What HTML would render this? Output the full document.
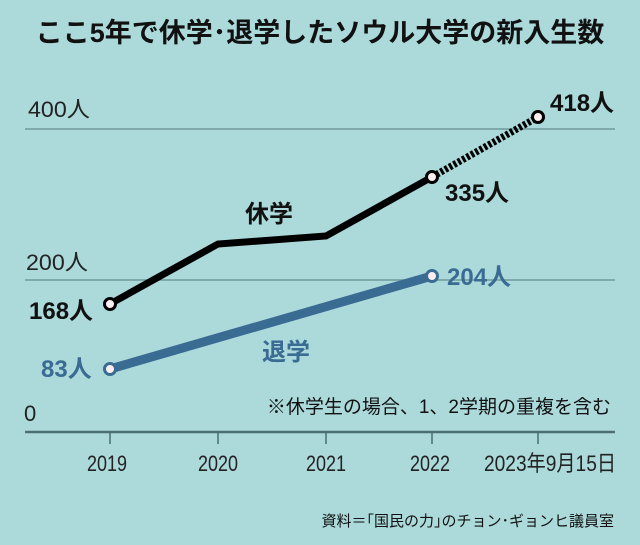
<!DOCTYPE html>
<html><head><meta charset="utf-8"><style>
body{margin:0;width:640px;height:545px;background:#acd9da;overflow:hidden}
svg{display:block}
text{font-family:"Liberation Sans","Noto Sans CJK JP",sans-serif}
</style></head><body>
<svg width="640" height="545" viewBox="0 0 640 545">
<text x="320" y="42" text-anchor="middle" font-size="27" font-weight="bold" fill="#111">ここ5年で休学･退学したソウル大学の新入生数</text>
<line x1="25" y1="129" x2="615" y2="129" stroke="#6f9a9d" stroke-width="1.5"/>
<line x1="25" y1="280" x2="615" y2="280" stroke="#6f9a9d" stroke-width="1.5"/>
<line x1="25" y1="432" x2="615" y2="432" stroke="#4a6e72" stroke-width="2.5"/>
<g stroke="#4a6e72" stroke-width="1.5">
<line x1="110" y1="432" x2="110" y2="444"/><line x1="218" y1="432" x2="218" y2="444"/><line x1="326" y1="432" x2="326" y2="444"/><line x1="432" y1="432" x2="432" y2="444"/><line x1="538" y1="432" x2="538" y2="444"/></g>
<g font-size="22" fill="#222" text-anchor="middle">
<text x="107" y="471" textLength="40" lengthAdjust="spacingAndGlyphs">2019</text><text x="218" y="471" textLength="40" lengthAdjust="spacingAndGlyphs">2020</text><text x="326" y="471" textLength="40" lengthAdjust="spacingAndGlyphs">2021</text><text x="430" y="471" textLength="40" lengthAdjust="spacingAndGlyphs">2022</text><text x="550" y="471" textLength="132" lengthAdjust="spacingAndGlyphs">2023年9月15日</text></g>
<g font-size="22" fill="#222"><text x="28" y="117" textLength="62" lengthAdjust="spacingAndGlyphs">400人</text><text x="26" y="270" textLength="62" lengthAdjust="spacingAndGlyphs">200人</text><text x="24" y="421">0</text></g>
<polyline points="110,304 218,244 326,236 432,177" fill="none" stroke="#000" stroke-width="7" stroke-linejoin="miter"/>
<line x1="432" y1="177" x2="538" y2="117" stroke="#000" stroke-width="7" stroke-dasharray="3,2"/>
<line x1="110" y1="369" x2="432" y2="276" stroke="#3a6b93" stroke-width="9"/>
<g fill="#fbeef0" stroke="#000" stroke-width="3"><circle cx="110" cy="304" r="5.5"/><circle cx="432" cy="177" r="5.5"/><circle cx="538" cy="117" r="5.5"/></g>
<g fill="#fbeef0" stroke="#3a6b93" stroke-width="3"><circle cx="110" cy="369" r="5.5"/><circle cx="432" cy="276" r="5.5"/></g>
<g font-size="24" font-weight="bold" fill="#111"><text x="29" y="319">168人</text><text x="445" y="201">335人</text><text x="550" y="111">418人</text><text x="245" y="222">休学</text></g>
<g font-size="24" font-weight="bold" fill="#3a6b93"><text x="41" y="377">83人</text><text x="447" y="285">204人</text><text x="262" y="360">退学</text></g>
<text x="611" y="413" text-anchor="end" font-size="19" fill="#111">※休学生の場合、1、2学期の重複を含む</text>
<text x="614" y="526" text-anchor="end" font-size="15" fill="#111">資料＝｢国民の力｣のチョン･ギョンヒ議員室</text>
</svg>
</body></html>
